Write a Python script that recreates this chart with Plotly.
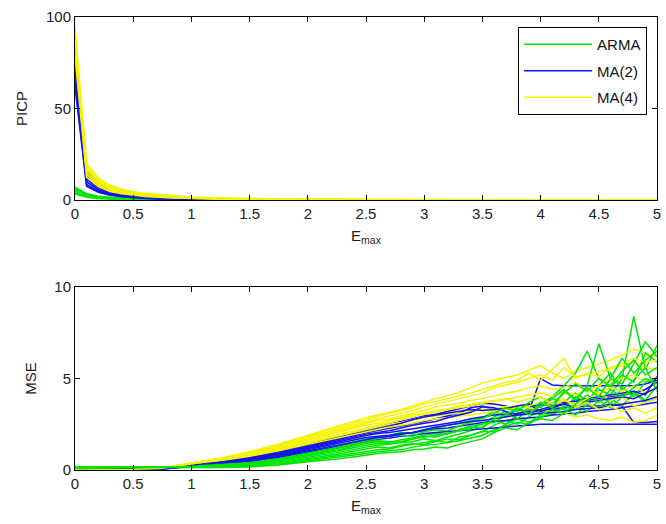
import plotly.graph_objects as go

# ---------------- PICP vs E_max (upper panel) ----------------
e_picp = [0, 0.1, 0.2, 0.3, 0.4, 0.5, 0.6, 0.8, 1.0, 1.25, 1.5, 2.0, 2.5, 3.0, 4.0, 5.0]

picp_arma = [
    [7.0, 3.5, 2.0, 1.3, 0.9, 0.6, 0.45, 0.25, 0.15, 0.08, 0.05, 0.02, 0, 0, 0, 0],
    [6.2, 3.0, 1.7, 1.1, 0.75, 0.5, 0.38, 0.2, 0.12, 0.06, 0.04, 0.01, 0, 0, 0, 0],
    [5.5, 2.6, 1.4, 0.9, 0.6, 0.42, 0.3, 0.16, 0.1, 0.05, 0.03, 0.01, 0, 0, 0, 0],
    [4.8, 2.2, 1.2, 0.75, 0.5, 0.35, 0.25, 0.13, 0.08, 0.04, 0.02, 0, 0, 0, 0, 0],
    [4.0, 1.8, 1.0, 0.6, 0.4, 0.28, 0.2, 0.1, 0.06, 0.03, 0.01, 0, 0, 0, 0, 0],
    [3.3, 1.5, 0.8, 0.5, 0.32, 0.22, 0.15, 0.08, 0.05, 0.02, 0.01, 0, 0, 0, 0, 0],
]
picp_ma2 = [
    [80, 16, 9.0, 5.5, 3.8, 2.8, 2.1, 1.3, 0.8, 0.5, 0.3, 0.12, 0.05, 0.02, 0, 0],
    [77, 14.5, 8.0, 5.0, 3.4, 2.5, 1.9, 1.1, 0.7, 0.42, 0.25, 0.1, 0.04, 0.02, 0, 0],
    [74, 13, 7.2, 4.4, 3.0, 2.2, 1.6, 1.0, 0.6, 0.36, 0.2, 0.08, 0.03, 0.01, 0, 0],
    [71, 11.5, 6.4, 3.9, 2.6, 1.9, 1.4, 0.85, 0.5, 0.3, 0.17, 0.06, 0.02, 0.01, 0, 0],
    [68, 10, 5.6, 3.4, 2.3, 1.7, 1.2, 0.7, 0.42, 0.25, 0.14, 0.05, 0.02, 0, 0, 0],
    [65, 8.5, 4.8, 3.0, 2.0, 1.5, 1.05, 0.6, 0.35, 0.2, 0.1, 0.04, 0.01, 0, 0, 0],
    [62, 7.5, 4.2, 2.6, 1.8, 1.3, 0.9, 0.5, 0.3, 0.17, 0.08, 0.03, 0.01, 0, 0, 0],
]
picp_ma4 = [
    [94, 20, 12, 8.0, 6.0, 4.5, 3.6, 2.4, 1.6, 1.1, 0.8, 0.4, 0.2, 0.1, 0.05, 0.02],
    [91, 18.5, 11, 7.2, 5.3, 4.1, 3.2, 2.1, 1.4, 0.95, 0.7, 0.35, 0.15, 0.08, 0.03, 0.01],
    [88, 17, 10, 6.5, 4.8, 3.6, 2.8, 1.8, 1.2, 0.8, 0.6, 0.3, 0.12, 0.06, 0.02, 0.01],
    [85, 15.5, 9.0, 5.8, 4.2, 3.2, 2.5, 1.6, 1.05, 0.7, 0.5, 0.25, 0.1, 0.05, 0.02, 0],
    [82, 14, 8.2, 5.2, 3.8, 2.9, 2.2, 1.4, 0.9, 0.6, 0.42, 0.2, 0.08, 0.04, 0.01, 0],
    [79, 12.5, 7.4, 4.7, 3.4, 2.6, 2.0, 1.2, 0.8, 0.5, 0.35, 0.17, 0.06, 0.03, 0.01, 0],
]

# ---------------- MSE vs E_max (lower panel) ----------------
e_mse = [0, 0.25, 0.5, 0.75, 1.0, 1.25, 1.5, 1.75, 2.0, 2.25,
         2.5, 2.6, 2.7, 2.8, 2.9, 3.0, 3.1, 3.2, 3.3, 3.4,
         3.5, 3.6, 3.7, 3.8, 3.9, 4.0, 4.1, 4.2, 4.3, 4.4,
         4.5, 4.6, 4.7, 4.8, 4.9, 5.0]

mse_arma = [
    [0.16, 0.16, 0.16, 0.16, 0.22, 0.32, 0.45, 0.65, 0.95, 1.3, 1.7, 1.8, 1.9, 2.05, 2.0, 2.2, 2.3, 2.45, 2.55, 2.7,
     2.85, 3.2, 2.9, 3.3, 3.6, 3.4, 3.9, 3.7, 4.2, 3.8, 4.4, 4.1, 5.0, 8.4, 5.5, 6.8],
    [0.14, 0.14, 0.14, 0.14, 0.19, 0.27, 0.37, 0.54, 0.8, 1.1, 1.45, 1.55, 1.5, 1.65, 1.75, 1.9, 2.0, 1.95, 2.2, 2.4,
     2.5, 2.9, 3.2, 2.8, 3.3, 3.6, 4.0, 4.6, 5.3, 6.5, 5.0, 4.5, 5.2, 4.8, 6.4, 5.9],
    [0.13, 0.13, 0.13, 0.13, 0.17, 0.23, 0.31, 0.45, 0.7, 0.95, 1.25, 1.35, 1.4, 1.5, 1.55, 1.7, 1.6, 1.8, 1.95, 2.15,
     2.35, 2.7, 2.5, 3.0, 3.4, 3.0, 3.5, 3.3, 4.0, 3.7, 4.6, 5.3, 4.4, 4.9, 5.6, 4.3],
    [0.12, 0.12, 0.12, 0.12, 0.15, 0.19, 0.24, 0.34, 0.55, 0.75, 1.0, 1.1, 1.15, 1.3, 1.4, 1.5, 1.6, 1.5, 1.8, 1.9,
     2.1, 2.45, 2.7, 2.5, 2.9, 3.2, 3.0, 3.5, 3.3, 3.9, 4.2, 3.6, 4.5, 4.0, 4.8, 5.0],
    [0.12, 0.12, 0.12, 0.12, 0.13, 0.16, 0.2, 0.3, 0.5, 0.68, 0.9, 1.0, 1.05, 1.1, 1.25, 1.35, 1.4, 1.5, 1.6, 1.75,
     1.9, 2.2, 2.4, 2.6, 2.5, 2.9, 3.1, 3.4, 3.0, 3.6, 3.4, 3.9, 3.5, 4.2, 3.7, 3.9],
    [0.11, 0.11, 0.11, 0.11, 0.12, 0.14, 0.17, 0.28, 0.45, 0.6, 0.8, 0.9, 0.95, 1.0, 1.1, 1.15, 1.25, 1.2, 1.4, 1.55,
     1.7, 2.05, 2.3, 2.2, 2.6, 2.8, 2.7, 3.1, 3.5, 3.2, 3.8, 3.4, 4.0, 4.3, 3.8, 4.6],
    [0.13, 0.13, 0.13, 0.13, 0.18, 0.25, 0.35, 0.51, 0.76, 1.04, 1.35, 1.45, 1.45, 1.55, 1.7, 1.8, 1.9, 2.0, 2.15, 2.25,
     2.55, 2.6, 3.0, 3.3, 3.1, 3.5, 3.9, 4.4, 3.8, 4.6, 6.9, 5.0, 4.7, 5.8, 7.0, 6.2],
    [0.15, 0.15, 0.15, 0.15, 0.21, 0.3, 0.42, 0.61, 0.9, 1.23, 1.6, 1.7, 1.85, 1.9, 1.85, 2.1, 2.2, 2.15, 2.4, 2.6,
     2.8, 3.1, 3.4, 3.2, 3.7, 4.0, 3.6, 4.2, 4.7, 4.3, 5.0, 4.6, 5.4, 6.0, 5.2, 5.6],
    [0.12, 0.12, 0.12, 0.12, 0.16, 0.21, 0.28, 0.4, 0.62, 0.86, 1.15, 1.25, 1.2, 1.35, 1.45, 1.4, 1.55, 1.7, 1.65, 1.9,
     2.1, 2.1, 2.5, 2.8, 2.6, 3.0, 3.3, 3.1, 3.6, 4.1, 3.7, 4.4, 4.0, 4.5, 5.0, 4.7],
    [0.14, 0.14, 0.14, 0.14, 0.2, 0.29, 0.4, 0.58, 0.85, 1.17, 1.52, 1.6, 1.55, 1.5, 1.7, 1.85, 1.8, 2.0, 2.15, 2.35,
     2.3, 2.8, 3.0, 3.4, 3.0, 3.7, 3.4, 4.3, 3.9, 4.5, 4.0, 5.0, 6.1, 5.3, 6.0, 6.5],
]
mse_ma2 = [
    [0, 0.01, 0.02, 0.08, 0.3, 0.5, 0.7, 1.0, 1.37, 1.8, 2.2, 2.35, 2.5, 2.65, 2.8, 2.95, 3.05, 3.2, 3.35, 3.5,
     3.65, 3.6, 3.5, 3.3, 3.2, 5.0, 4.65, 4.6, 4.6, 4.6, 4.6, 4.6, 4.6, 4.6, 4.7, 4.9],
    [0, 0.01, 0.02, 0.07, 0.27, 0.45, 0.63, 0.91, 1.26, 1.65, 2.03, 2.15, 2.3, 2.4, 2.5, 2.65, 2.8, 2.95, 3.1, 3.4,
     3.5, 3.3, 3.4, 3.45, 3.5, 3.55, 3.6, 3.7, 3.75, 3.8, 3.9, 4.0, 4.1, 4.2, 4.4, 4.8],
    [0, 0.01, 0.02, 0.06, 0.25, 0.4, 0.56, 0.82, 1.15, 1.52, 1.88, 2.0, 2.05, 2.15, 2.25, 2.35, 2.45, 2.55, 2.65, 2.8,
     2.9, 3.0, 3.05, 3.1, 3.2, 3.25, 3.3, 3.4, 3.45, 3.5, 3.5, 3.6, 3.5, 2.6, 2.6, 2.65],
    [0, 0.01, 0.02, 0.06, 0.23, 0.37, 0.52, 0.78, 1.1, 1.43, 1.78, 1.85, 1.9, 2.0, 2.05, 2.15, 2.25, 2.3, 2.4, 2.5,
     2.6, 2.65, 2.7, 2.8, 2.85, 2.9, 3.0, 3.05, 3.1, 3.2, 3.25, 3.3, 3.4, 3.5, 3.6, 3.7],
    [0, 0.01, 0.02, 0.05, 0.2, 0.32, 0.45, 0.7, 1.0, 1.3, 1.6, 1.68, 1.75, 1.85, 1.9, 2.0, 2.05, 2.1, 2.15, 2.2,
     2.25, 2.3, 2.35, 2.4, 2.45, 2.5, 2.5, 2.5, 2.5, 2.5, 2.5, 2.5, 2.5, 2.5, 2.5, 2.5],
    [0, 0.01, 0.02, 0.08, 0.28, 0.47, 0.66, 0.95, 1.3, 1.72, 2.1, 2.25, 2.4, 2.55, 2.75, 2.9, 3.0, 3.1, 3.2, 3.3,
     3.25, 3.3, 3.35, 3.5, 3.6, 3.2, 3.4, 3.6, 3.8, 3.9, 4.0, 4.1, 4.2, 4.3, 4.1, 5.1],
    [0, 0.01, 0.02, 0.07, 0.26, 0.43, 0.6, 0.87, 1.21, 1.59, 1.96, 2.05, 2.15, 2.3, 2.45, 2.55, 2.65, 2.85, 3.0, 3.15,
     3.45, 3.4, 3.2, 3.0, 3.1, 3.3, 3.5, 3.6, 3.4, 3.7, 3.8, 3.9, 4.0, 3.9, 4.2, 4.5],
    [0, 0.01, 0.02, 0.05, 0.21, 0.34, 0.48, 0.74, 1.05, 1.36, 1.69, 1.78, 1.85, 1.95, 2.05, 2.2, 2.35, 2.45, 2.55, 2.65,
     2.7, 2.8, 2.9, 3.0, 3.05, 3.1, 3.15, 3.2, 3.3, 3.35, 3.4, 3.5, 3.6, 3.7, 3.8, 4.0],
]
mse_ma4 = [
    [0, 0.01, 0.03, 0.12, 0.37, 0.65, 1.0, 1.42, 1.9, 2.38, 2.85, 3.0, 3.15, 3.3, 3.5, 3.7, 3.9, 4.05, 4.25, 4.5,
     4.75, 4.9, 5.05, 5.2, 5.45, 5.7, 5.3, 5.0, 5.4, 5.6, 5.8, 6.0, 6.3, 6.6, 6.4, 6.2],
    [0, 0.01, 0.03, 0.11, 0.35, 0.61, 0.94, 1.33, 1.78, 2.22, 2.66, 2.8, 2.95, 3.1, 3.25, 3.45, 3.6, 3.75, 3.9, 4.05,
     4.2, 4.5, 4.65, 4.8, 5.0, 5.2, 4.9, 5.6, 5.1, 5.2, 5.4, 5.5, 5.7, 5.9, 5.6, 5.5],
    [0, 0.01, 0.03, 0.1, 0.34, 0.59, 0.9, 1.27, 1.7, 2.12, 2.55, 2.7, 2.8, 2.95, 3.1, 3.25, 3.45, 3.55, 3.65, 3.8,
     3.9, 4.05, 4.2, 4.3, 4.5, 4.6, 4.4, 4.5, 4.8, 4.3, 4.6, 4.9, 5.0, 5.2, 4.8, 5.0],
    [0, 0.01, 0.03, 0.09, 0.31, 0.55, 0.83, 1.16, 1.54, 1.93, 2.32, 2.45, 2.6, 2.75, 2.9, 3.05, 3.15, 3.3, 3.4, 3.5,
     3.65, 3.75, 3.85, 4.0, 4.1, 4.2, 4.0, 4.3, 4.1, 4.4, 4.2, 4.5, 4.3, 4.6, 4.2, 4.4],
    [0, 0.01, 0.02, 0.09, 0.3, 0.53, 0.79, 1.1, 1.47, 1.84, 2.21, 2.35, 2.5, 2.6, 2.75, 2.9, 2.95, 3.05, 3.1, 3.2,
     3.3, 3.35, 3.45, 3.5, 3.4, 3.3, 3.2, 3.1, 2.9, 3.0, 2.8, 2.7, 2.9, 2.6, 2.7, 3.0],
    [0, 0.01, 0.02, 0.08, 0.28, 0.5, 0.75, 1.05, 1.4, 1.75, 2.1, 2.25, 2.35, 2.45, 2.55, 2.7, 2.8, 2.85, 2.95, 3.0,
     3.1, 3.2, 3.3, 3.4, 3.5, 3.7, 3.5, 3.8, 3.6, 3.9, 4.2, 3.8, 4.0, 3.5, 3.7, 3.9],
    [0, 0.01, 0.03, 0.11, 0.36, 0.63, 0.97, 1.38, 1.84, 2.3, 2.77, 2.95, 3.1, 3.25, 3.4, 3.6, 3.75, 3.9, 4.05, 4.2,
     4.4, 4.6, 4.8, 4.9, 5.3, 4.9, 5.5, 6.1, 5.0, 5.3, 5.1, 5.6, 5.8, 6.1, 5.9, 6.0],
    [0, 0.01, 0.03, 0.1, 0.33, 0.57, 0.86, 1.21, 1.62, 2.02, 2.44, 2.55, 2.7, 2.85, 3.0, 3.1, 3.25, 3.35, 3.5, 3.6,
     3.7, 3.8, 3.9, 3.7, 3.9, 4.0, 3.6, 3.9, 3.4, 3.7, 3.3, 3.5, 3.2, 3.4, 3.1, 3.4],
]

model_names = ["ARMA", "MA(2)", "MA(4)"]
model_colors = ["#00e600", "#1414f0", "#f4f400"]

x_tick_vals = [0, 0.5, 1, 1.5, 2, 2.5, 3, 3.5, 4, 4.5, 5]
x_tick_text = ["0", "0.5", "1", "1.5", "2", "2.5", "3", "3.5", "4", "4.5", "5"]
picp_ticks = [0, 50, 100]
mse_ticks = [0, 5, 10]

FONT = "Liberation Sans, Arial, sans-serif"
TXT = "#222222"

fig = go.Figure()

# upper panel: ARMA, then MA(2), then MA(4)
for m, runs in enumerate([picp_arma, picp_ma2, picp_ma4]):
    for k, ys in enumerate(runs):
        fig.add_trace(go.Scatter(
            x=e_picp, y=ys, mode="lines", xaxis="x", yaxis="y",
            line=dict(color=model_colors[m], width=1.6),
            name=model_names[m], legendgroup=model_names[m],
            showlegend=(k == 0),
        ))

# lower panel: runs interleaved across the three models
n_runs = max(len(mse_arma), len(mse_ma2), len(mse_ma4))
for k in range(n_runs):
    for m, runs in enumerate([mse_arma, mse_ma2, mse_ma4]):
        if k < len(runs):
            fig.add_trace(go.Scatter(
                x=e_mse, y=runs[k], mode="lines", xaxis="x2", yaxis="y2",
                line=dict(color=model_colors[m], width=1.5),
                name=model_names[m], legendgroup=model_names[m],
                showlegend=False,
            ))

axis_common = dict(
    showline=True, linecolor="black", linewidth=1, mirror="ticks",
    ticks="inside", ticklen=5, tickcolor="black", tickwidth=1,
    showgrid=False, zeroline=False,
    tickfont=dict(family=FONT, size=15, color=TXT),
)
xtitle = dict(text="E<sub>max</sub>", font=dict(family=FONT, size=15, color=TXT), standoff=9)

fig.update_layout(
    width=666, height=524,
    margin=dict(l=75, r=5, t=17, b=54),
    paper_bgcolor="white", plot_bgcolor="white",
    xaxis=dict(domain=[0, 1], range=[0, 5], anchor="y",
               tickvals=x_tick_vals, ticktext=x_tick_text, title=xtitle, **axis_common),
    yaxis=dict(domain=[0.596, 1.0], range=[0, 100], anchor="x",
               tickvals=picp_ticks,
               title=dict(text="PICP", font=dict(family=FONT, size=15, color=TXT), standoff=14),
               **axis_common),
    xaxis2=dict(domain=[0, 1], range=[0, 5], anchor="y2",
                tickvals=x_tick_vals, ticktext=x_tick_text, title=xtitle, **axis_common),
    yaxis2=dict(domain=[0, 0.404], range=[0, 10], anchor="x2",
                tickvals=mse_ticks,
                title=dict(text="MSE", font=dict(family=FONT, size=15, color=TXT), standoff=14),
                **axis_common),
    legend=dict(
        x=0.983, y=0.978, xanchor="right", yanchor="top",
        bgcolor="white", bordercolor="black", borderwidth=1,
        font=dict(family=FONT, size=15, color="#111111"),
        itemwidth=68, tracegroupgap=4,
    ),
    showlegend=True,
)

fig.write_html("out.html")
